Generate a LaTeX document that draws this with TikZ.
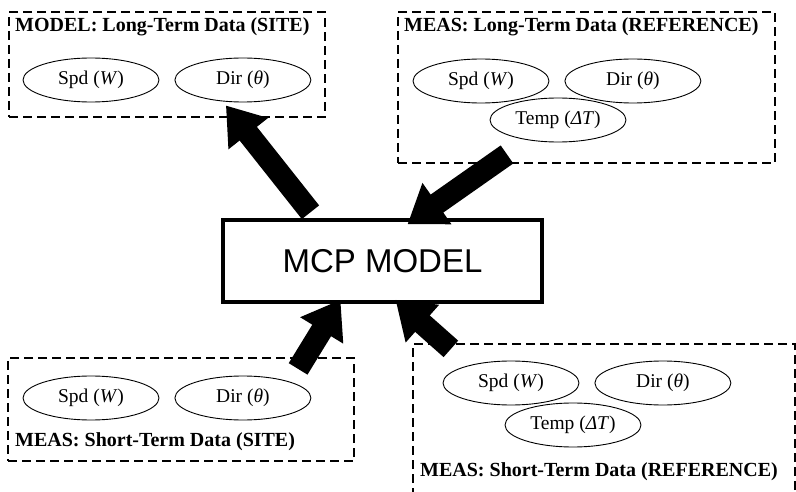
\documentclass[tikz,border=0pt]{standalone}
\usepackage{fontspec}
\setmainfont{Liberation Serif}
\newfontfamily\arialfont{Liberation Sans}
\usetikzlibrary{shapes}
\usetikzlibrary{arrows.meta}
\usetikzlibrary{positioning}

\tikzset{
  databox/.style={draw, rectangle, line width=2.2pt, dash pattern=on 9pt off 5pt, inner sep=0pt},
  varnode/.style={draw, ellipse, line width=0.9pt, minimum width=136pt, minimum height=44pt, inner sep=0pt},
  boxtitle/.style={anchor=base west, inner sep=0pt, font=\fontsize{20}{22}\selectfont\bfseries},
  fatarrow/.style={line width=22pt, -{Triangle[length=36pt,width=48pt]}},
}

\begin{document}
\begin{tikzpicture}[x=1pt, y=-1pt,
                every node/.style={font=\fontsize{19.5}{22}\selectfont}]
                \clip (0,0) rectangle (796,492);
                % dashed data boxes
                \node (ltsite) [databox, minimum width=316pt, minimum height=105pt] at (167,64.5) { };
                \node (ltref) [databox, minimum width=377pt, minimum height=151pt] at (586.5,87.5) { };
                \node (stsite) [databox, minimum width=346pt, minimum height=103pt] at (181,409.5) { };
                \node (stref) [databox, minimum width=382pt, minimum height=156pt] at (604,422) { };
                \node (ltsitett) [boxtitle] at (15,32) {MODEL: Long-Term Data (SITE)};
                \node (ltreftt) [boxtitle] at (404,32) {MEAS: Long-Term Data (REFERENCE)};
                \node (stsitett) [boxtitle] at (15,446) {MEAS: Short-Term Data (SITE)};
                \node (streftt) [boxtitle] at (420,476) {MEAS: Short-Term Data (REFERENCE)};
                % variables
                \node (spdA) [varnode] at (91,80) {Spd (\textit{W})};
                \node (dirA) [varnode, right=15pt of spdA] {Dir (\textit{θ})};
                \node (spdB) [varnode] at (481,81) {Spd (\textit{W})};
                \node (dirB) [varnode, right=15pt of spdB] {Dir (\textit{θ})};
                \node (tempB) [varnode] at (558,120) {Temp (\textit{ΔT})};
                \node (spdC) [varnode] at (91,398) {Spd (\textit{W})};
                \node (dirC) [varnode, right=15pt of spdC] {Dir (\textit{θ})};
                \node (spdD) [varnode] at (511,383) {Spd (\textit{W})};
                \node (dirD) [varnode, right=15pt of spdD] {Dir (\textit{θ})};
                \node (tempD) [varnode] at (573,425) {Temp (\textit{ΔT})};
                % model
                \node (mcp) [draw, fill=white, line width=3.5pt, minimum width=319pt, minimum height=82pt,
                             font=\arialfont\fontsize{33}{36}\selectfont] at (382.5,261) {MCP MODEL};
                \draw [fatarrow] ([xshift=-72pt,yshift=6pt]mcp.north) -- ([xshift=-17pt,yshift=-3pt]dirA.south);
                \draw [fatarrow] ([xshift=-51pt,yshift=-12pt]tempB.south) -- ([xshift=25pt,yshift=-6pt]mcp.north);
                \draw [fatarrow] ([xshift=-57pt,yshift=-12pt]stsite.north east) -- ([xshift=-42pt,yshift=4pt]mcp.south);
                \draw [fatarrow] ([xshift=39pt,yshift=-6pt]stref.north west) -- ([xshift=13pt,yshift=4pt]mcp.south);
            \end{tikzpicture}
\end{document}
